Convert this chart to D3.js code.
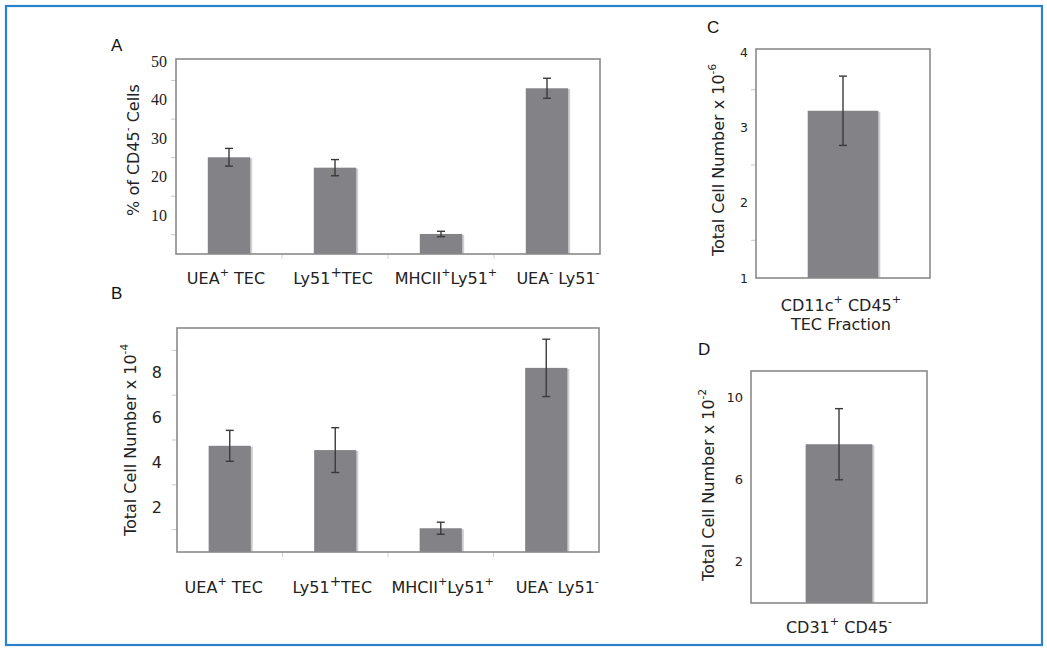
<!DOCTYPE html>
<html><head><meta charset="utf-8">
<script src="https://cdn.jsdelivr.net/npm/d3@7"></script>
<style>html,body{margin:0;padding:0;background:#fff;}svg{display:block;}</style>
</head><body>
<svg id="chart" width="1047" height="650"></svg>
<script>
// ---------- data ----------
const catsAB = ["UEA+ TEC", "Ly51+TEC", "MHCII+Ly51+", "UEA- Ly51-"];
const valuesA = [25.1, 22.4, 5.2, 43.0];
const errorsA = [2.3, 2.1, 0.7, 2.6];
const ticksA = [10, 20, 30, 40, 50];
const minorA = [5, 15, 25, 35, 45];

const valuesB = [4.74, 4.55, 1.06, 8.22];
const errorsB = [0.69, 1.0, 0.27, 1.28];
const ticksB = [2, 4, 6, 8];
const minorB = [1, 3, 5, 7, 9];

const catsC = ["CD11c+ CD45+ TEC Fraction"];
const valuesC = [3.22];
const errorsC = [0.46];
const ticksC = [1, 2, 3, 4];
const minorC = [1.5, 2.5, 3.5];

const catsD = ["CD31+ CD45-"];
const valuesD = [7.72];
const errorsD = [1.73];
const ticksD = [2, 6, 10];

// label rich text (base, sup) segments
const labelParts = {
  "UEA+ TEC": [["UEA",""],["+","sup"],[" TEC",""]],
  "Ly51+TEC": [["Ly51",""],["+","supbig"],["TEC",""]],
  "MHCII+Ly51+": [["MHCII",""],["+","sup"],["Ly51",""],["+","sup"]],
  "UEA- Ly51-": [["UEA",""],["-","sup"],[" Ly51",""],["-","sup"]],
  "CD11c+ CD45+": [["CD11c",""],["+","sup"],[" CD45",""],["+","sup"]],
  "CD31+ CD45-": [["CD31",""],["+","sup"],[" CD45",""],["-","sup"]]
};

const svg = d3.select("#chart");
const SANS = "'DejaVu Sans', Verdana, sans-serif";
const SERIF = "'Liberation Serif', 'Times New Roman', serif";
const LABEL_FS = 16;

// outer border
svg.append("rect").attr("x",6).attr("y",6).attr("width",1036).attr("height",639)
  .attr("fill","none").attr("stroke","#2a82cc").attr("stroke-width",2.2);

function richText(sel, parts, fs) {
  parts.forEach(([t, kind]) => {
    const ts = sel.append("tspan").text(t);
    if (kind === "sup") ts.attr("font-size", fs*0.7).attr("baseline-shift", fs*0.35);
    else if (kind === "supbig") ts.attr("font-size", fs*0.85).attr("baseline-shift", fs*0.4);
  });
}

function panel(o) {
  const g = svg.append("g");
  const y = d3.scaleLinear().domain(o.yDomain).range([o.y1, o.y0]);
  const x = d3.scaleBand().domain(o.cats).range([o.x0, o.x1])
    .paddingInner(o.pi).paddingOuter(o.po);

  (o.minor||[]).forEach(v => {
    g.append("line").attr("x1",o.x0-5).attr("x2",o.x0).attr("y1",y(v)).attr("y2",y(v))
      .attr("stroke","#c8c8c8").attr("stroke-width",1);
  });
  if (o.cats.length > 1) {
    const step = x.step();
    for (let i = 1; i < o.cats.length; i++) {
      const bx = x(o.cats[i]) - step*o.pi/2;
      g.append("line").attr("x1",bx).attr("x2",bx).attr("y1",o.y1).attr("y2",o.y1+5)
        .attr("stroke","#d0d0d0").attr("stroke-width",1);
    }
  }
  o.values.forEach((v, i) => {
    const c = o.cats[i];
    g.append("rect").attr("x", x(c)+2).attr("y", y(v)+1)
      .attr("width", x.bandwidth()).attr("height", y(o.yDomain[0]) - y(v) - 1)
      .attr("fill", "#cfcfd2");
    g.append("rect").attr("x", x(c)).attr("y", y(v))
      .attr("width", x.bandwidth()).attr("height", y(o.yDomain[0]) - y(v))
      .attr("fill", "#838387");
  });
  g.append("rect").attr("x",o.x0).attr("y",o.y0).attr("width",o.x1-o.x0).attr("height",o.y1-o.y0)
    .attr("fill","none").attr("stroke","#8a8a8a").attr("stroke-width",1.6);
  o.values.forEach((v, i) => {
    const cx = x(o.cats[i]) + x.bandwidth()/2;
    const e = o.errors[i];
    const cap = 4;
    g.append("line").attr("x1",cx).attr("x2",cx).attr("y1",y(v+e)).attr("y2",y(v-e))
      .attr("stroke","#3a3a3a").attr("stroke-width",1.4);
    [v+e, v-e].forEach(w => g.append("line").attr("x1",cx-cap).attr("x2",cx+cap)
      .attr("y1",y(w)).attr("y2",y(w)).attr("stroke","#3a3a3a").attr("stroke-width",1.4));
  });
  o.ticks.forEach(t => {
    g.append("text").attr("x", o.x0 - o.tickGap).attr("y", y(t))
      .attr("text-anchor","end").attr("dominant-baseline","central")
      .attr("font-family", o.tickFont).attr("font-size", o.tickSize).attr("fill","#222")
      .text(t);
  });
  const tt = g.append("text")
    .attr("transform", `translate(${o.titleX},${o.titleY}) rotate(-90)`)
    .attr("text-anchor","middle").attr("dominant-baseline","central")
    .attr("font-family", SANS).attr("font-size", LABEL_FS).attr("fill","#222");
  tt.append("tspan").text(o.title);
  tt.append("tspan").text(o.titleSup).attr("font-size", 10.5).attr("baseline-shift", 6.5);
  if (o.titleTail) tt.append("tspan").text(o.titleTail);
  g.append("text").attr("x", o.letterX).attr("y", o.letterY).attr("dominant-baseline","central")
    .attr("font-family","'Liberation Sans', Arial, sans-serif").attr("font-size",17).attr("fill","#111")
    .text(o.letter);
  return {g, x, y};
}

const pA = panel({cats: catsAB, values: valuesA, errors: errorsA, ticks: ticksA, minor: minorA,
  yDomain: [0, 50.6], x0: 176, x1: 600, y0: 59, y1: 254, pi: 0.6, po: 0.3,
  tickGap: 9, tickFont: SERIF, tickSize: 16,
  title: "% of CD45", titleSup: "-", titleTail: " Cells", titleX: 133, titleY: 150,
  letter: "A", letterX: 111, letterY: 45});

const pB = panel({cats: catsAB, values: valuesB, errors: errorsB, ticks: ticksB, minor: minorB,
  yDomain: [0, 10], x0: 177, x1: 599, y0: 328, y1: 552, pi: 0.6, po: 0.3,
  tickGap: 15, tickFont: SANS, tickSize: 16,
  title: "Total Cell Number x 10", titleSup: "-4", titleX: 130, titleY: 440,
  letter: "B", letterX: 111, letterY: 293});

const pC = panel({cats: catsC, values: valuesC, errors: errorsC, ticks: ticksC, minor: minorC,
  yDomain: [1, 4.04], x0: 756, x1: 930, y0: 49, y1: 278, pi: 0.413, po: 0.43,
  tickGap: 8, tickFont: SANS, tickSize: 12.5,
  title: "Total Cell Number x 10", titleSup: "-6", titleX: 718, titleY: 160,
  letter: "C", letterX: 707, letterY: 27});

const pD = panel({cats: catsD, values: valuesD, errors: errorsD, ticks: ticksD, minor: [],
  yDomain: [0, 11.28], x0: 751, x1: 927, y0: 371, y1: 603, pi: 0.45, po: 0.45,
  tickGap: 8, tickFont: SANS, tickSize: 13,
  title: "Total Cell Number x 10", titleSup: "-2", titleX: 708, titleY: 485,
  letter: "D", letterX: 698, letterY: 349});

// category labels A & B (small layout nudges as in the original artwork)
const nudgeA = [-3, -2, 5, 11];
const nudgeB = [-6, -3, 2, 11];
[[pA, 278, nudgeA], [pB, 587, nudgeB]].forEach(([p, ly, nudge]) => {
  catsAB.forEach((c, i) => {
    const t = p.g.append("text").attr("x", p.x(c) + p.x.bandwidth()/2 + nudge[i]).attr("y", ly)
      .attr("text-anchor","middle").attr("dominant-baseline","central")
      .attr("font-family", SANS).attr("font-size", LABEL_FS).attr("fill","#222");
    richText(t, labelParts[c], LABEL_FS);
  });
});
{
  const cx = pC.x(catsC[0]) + pC.x.bandwidth()/2 - 2;
  const t1 = pC.g.append("text").attr("x", cx).attr("y", 305).attr("text-anchor","middle")
    .attr("dominant-baseline","central").attr("font-family", SANS).attr("font-size", LABEL_FS).attr("fill","#222");
  richText(t1, labelParts["CD11c+ CD45+"], LABEL_FS);
  pC.g.append("text").attr("x", cx).attr("y", 324).attr("text-anchor","middle")
    .attr("dominant-baseline","central").attr("font-family", SANS).attr("font-size", LABEL_FS).attr("fill","#222")
    .text("TEC Fraction");
}
{
  const cx = pD.x(catsD[0]) + pD.x.bandwidth()/2;
  const t = pD.g.append("text").attr("x", cx).attr("y", 627).attr("text-anchor","middle")
    .attr("dominant-baseline","central").attr("font-family", SANS).attr("font-size", LABEL_FS).attr("fill","#222");
  richText(t, labelParts[catsD[0]], LABEL_FS);
}
</script>
</body></html>
